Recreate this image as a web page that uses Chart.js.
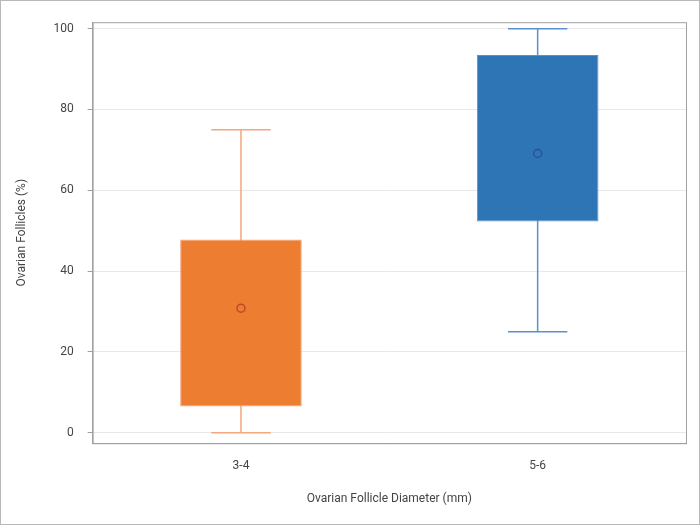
<!DOCTYPE html>
<html><head><meta charset="utf-8">
<script src="https://cdn.jsdelivr.net/npm/chart.js@4"></script>
<style>
body{margin:0;background:#fff}
#wrap{position:absolute;left:0;top:0;width:698px;height:523px;border:1px solid #b8b8b8}
</style></head><body>
<div id="wrap"><canvas id="c" width="698" height="523"></canvas></div>
<script>
const categories = ['3-4', '5-6'];
const whiskerLow = [0, 25];
const q1 = [6.5, 52.3];
const q3 = [47.8, 93.5];
const whiskerHigh = [75, 100];
const means = [30.8, 69.1];
const boxColors = ['#ed7d31', '#2e75b6'];
const lineColors = ['#f4a67c', '#5b8fcf'];
const meanColors = ['#c0462a', '#2f4f9a'];
const yTicks = [0, 20, 40, 60, 80, 100];

const whiskers = {
    id: 'whiskers',
    beforeDatasetsDraw(chart) {
        const { ctx } = chart;
        const x = chart.scales.x, y = chart.scales.y;
        categories.forEach((c, i) => {
            const cx = x.getPixelForValue(i);
            const half = (x.getPixelForValue(1) - x.getPixelForValue(0)) * 0.1;
            ctx.save();
            ctx.strokeStyle = lineColors[i];
            ctx.lineWidth = 1.5;
            ctx.beginPath();
            ctx.moveTo(cx, y.getPixelForValue(whiskerLow[i]));
            ctx.lineTo(cx, y.getPixelForValue(whiskerHigh[i]));
            [whiskerLow[i], whiskerHigh[i]].forEach(v => {
                ctx.moveTo(cx - half, y.getPixelForValue(v));
                ctx.lineTo(cx + half, y.getPixelForValue(v));
            });
            ctx.stroke();
            ctx.restore();
        });
    },
    afterDraw(chart) {
        const { ctx, chartArea: a } = chart;
        ctx.save();
        ctx.strokeStyle = '#a0a0a0';
        ctx.lineWidth = 1;
        ctx.strokeRect(a.left + 0.5, a.top + 0.5, a.width, a.height);
        ctx.restore();
    }
};

new Chart(document.getElementById('c'), {
    type: 'bar',
    data: {
        labels: categories,
        datasets: [{
            data: q1.map((v, i) => [v, q3[i]]),
            backgroundColor: boxColors,
            borderColor: lineColors,
            borderWidth: 1,
            borderSkipped: false,
            barPercentage: 0.41,
            categoryPercentage: 1,
            order: 2
        }, {
            type: 'line',
            data: means,
            showLine: false,
            pointRadius: 4,
            pointBorderWidth: 1.5,
            pointBackgroundColor: 'rgba(0,0,0,0)',
            pointBorderColor: meanColors,
            order: 1
        }]
    },
    options: {
        responsive: false,
        animation: false,
        layout: { padding: { top: 12, right: 13, bottom: 14, left: 10 } },
        plugins: { legend: { display: false }, tooltip: { enabled: false } },
        scales: {
            x: {
                grid: { display: false },
                border: { color: '#a0a0a0' },
                ticks: { color: '#444', padding: 8, font: { family: 'Roboto', size: 12 } },
                title: { display: true, text: 'Ovarian Follicle Diameter (mm)', color: '#444', padding: { top: 10 }, font: { family: 'Roboto', size: 12 } }
            },
            y: {
                min: -2.6, max: 101.6,
                afterBuildTicks: s => { s.ticks = yTicks.map(v => ({ value: v })); },
                grid: { color: '#e8e8e8', drawTicks: true, tickColor: '#a0a0a0', tickLength: 5 },
                border: { color: '#a0a0a0' },
                ticks: { color: '#444', padding: 14, font: { family: 'Roboto', size: 12 } },
                title: { display: true, text: 'Ovarian Follicles (%)', color: '#444', padding: { bottom: 10 }, font: { family: 'Roboto', size: 12 } }
            }
        }
    },
    plugins: [whiskers]
});
</script>
</body></html>
